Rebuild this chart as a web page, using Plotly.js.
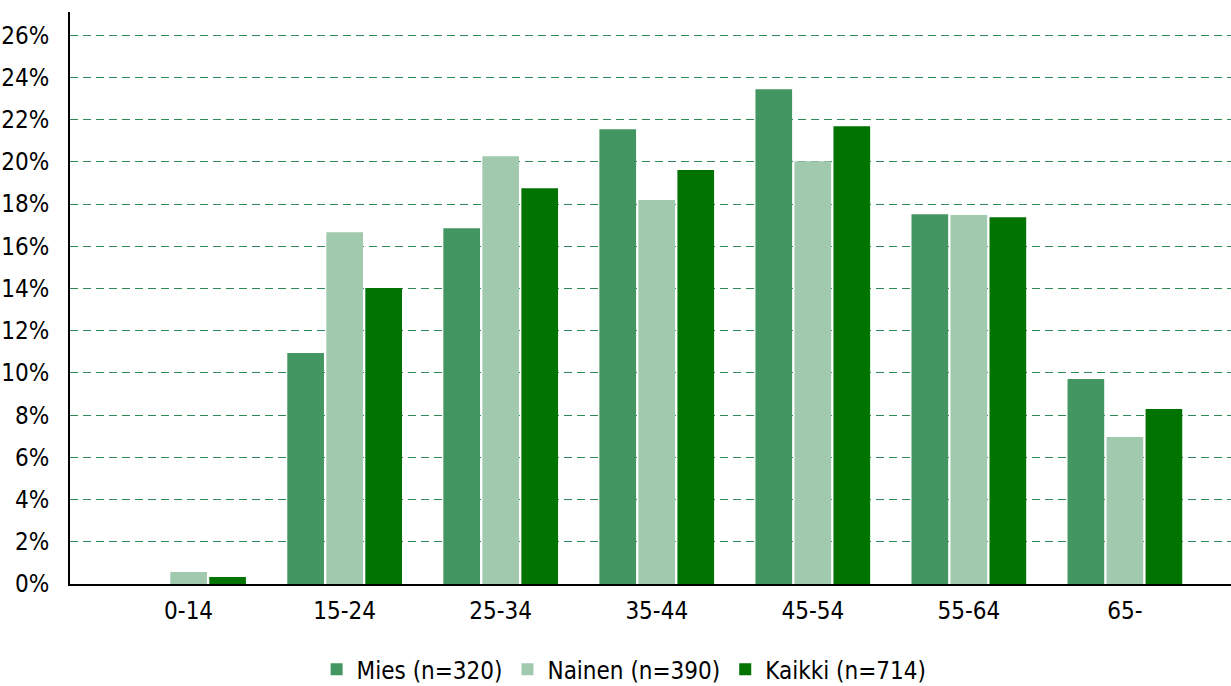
<!DOCTYPE html>
<html>
<head>
<meta charset="utf-8">
<script src="https://cdn.plot.ly/plotly-3.0.1.min.js"></script>
<style>html,body{margin:0;padding:0;background:#fff;}#chart{width:1231px;height:686px;}</style>
</head>
<body>
<div id="chart"></div>
<script>
const categories = ["0-14", "15-24", "25-34", "35-44", "45-54", "55-64", "65-"];
const mies = [0.0, 10.94, 16.86, 21.55, 23.44, 17.52, 9.71];
const nainen = [0.57, 16.67, 20.27, 18.19, 20.03, 17.48, 6.96];
const kaikki = [0.33, 14.02, 18.75, 19.61, 21.69, 17.38, 8.29];
const seriesNames = ["Mies (n=320)", "Nainen (n=390)", "Kaikki (n=714)"];
const yTickVals = [0, 2, 4, 6, 8, 10, 12, 14, 16, 18, 20, 22, 24, 26];

const colors = ["#439661", "#a1c9ae", "#007300"];
const traces = [mies, nainen, kaikki].map((vals, i) => ({
  type: "bar",
  x: categories,
  y: vals,
  name: seriesNames[i],
  marker: {color: colors[i]},
  hoverinfo: "x+y+name"
}));

const font = {family: "DejaVu Sans Condensed, DejaVu Sans, sans-serif", size: 24, color: "#000"};
const layout = {
  width: 1231, height: 686,
  margin: {l: 70, r: 0, t: 12, b: 102},
  paper_bgcolor: "#fff", plot_bgcolor: "#fff",
  font: font,
  barmode: "group",
  bargap: 0.25,
  bargroupgap: 0.06,
  showlegend: true,
  legend: {orientation: "h", xref: "container", yref: "container",
           x: 0.507, xanchor: "center", y: 0.024, yanchor: "middle",
           font: font, itemwidth: 30, traceorder: "normal",
           tracegroupgap: 0},
  xaxis: {
    type: "category",
    range: [-0.76, 6.68],
    showline: true, linecolor: "#000", linewidth: 2,
    showgrid: false, ticks: "", tickfont: font, zeroline: false,
    ticklabelstandoff: 4
  },
  yaxis: {
    range: [0, 27.1],
    tickvals: yTickVals,
    ticktext: yTickVals.map(v => v + "%"),
    showline: true, linecolor: "#000", linewidth: 2,
    showgrid: true, gridcolor: "#2e8b57", griddash: "8px,5px", gridwidth: 1,
    zeroline: false, ticks: "", ticklen: 0, tickfont: font,
    ticklabelstandoff: 14
  }
};
Plotly.newPlot("chart", traces, layout, {displayModeBar: false});
</script>
</body>
</html>
